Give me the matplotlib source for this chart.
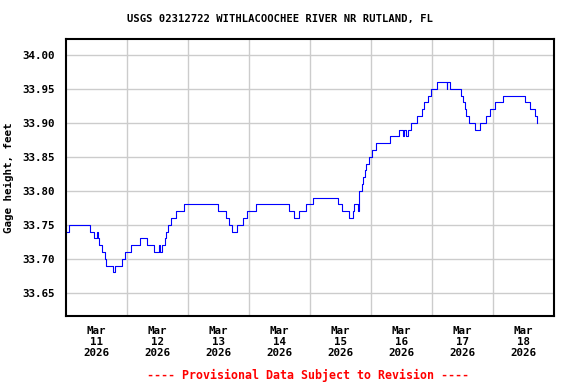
import matplotlib
matplotlib.use("Agg")
import matplotlib.pyplot as plt

# step breakpoints: days since Mar 11 00:00, gage height (ft)
days = [0.00, 0.06, 0.40, 0.47, 0.52, 0.53, 0.55, 0.59, 0.64, 0.66,
        0.77, 0.80, 0.93, 0.98, 1.07, 1.21, 1.34, 1.45, 1.53, 1.54,
        1.58, 1.62, 1.65, 1.68, 1.73, 1.80, 1.93, 2.49, 2.62, 2.68,
        2.73, 2.80, 2.90, 2.97, 3.12, 3.66, 3.74, 3.82, 3.93, 4.05,
        4.46, 4.53, 4.64, 4.70, 4.72, 4.79, 4.81, 4.85, 4.87, 4.90,
        4.92, 4.97, 5.01, 5.08, 5.31, 5.46, 5.53, 5.54, 5.58, 5.60,
        5.66, 5.75, 5.84, 5.87, 5.94, 5.99, 6.09, 6.24, 6.25, 6.29,
        6.47, 6.51, 6.54, 6.56, 6.61, 6.70, 6.78, 6.88, 6.95, 7.03,
        7.16, 7.52, 7.60, 7.68, 7.72]
heights = [33.74, 33.75, 33.74, 33.73, 33.74, 33.73, 33.72, 33.71, 33.70, 33.69,
           33.68, 33.69, 33.70, 33.71, 33.72, 33.73, 33.72, 33.71, 33.72, 33.71,
           33.72, 33.73, 33.74, 33.75, 33.76, 33.77, 33.78, 33.77, 33.76, 33.75,
           33.74, 33.75, 33.76, 33.77, 33.78, 33.77, 33.76, 33.77, 33.78, 33.79,
           33.78, 33.77, 33.76, 33.77, 33.78, 33.77, 33.80, 33.81, 33.82, 33.83,
           33.84, 33.85, 33.86, 33.87, 33.88, 33.89, 33.88, 33.89, 33.88, 33.89,
           33.90, 33.91, 33.92, 33.93, 33.94, 33.95, 33.96, 33.95, 33.96, 33.95,
           33.94, 33.93, 33.92, 33.91, 33.90, 33.89, 33.90, 33.91, 33.92, 33.93,
           33.94, 33.93, 33.92, 33.91, 33.90]

day_labels = ["Mar\n11\n2026", "Mar\n12\n2026", "Mar\n13\n2026", "Mar\n14\n2026",
              "Mar\n15\n2026", "Mar\n16\n2026", "Mar\n17\n2026", "Mar\n18\n2026"]
y_ticks = [33.65, 33.70, 33.75, 33.80, 33.85, 33.90, 33.95, 34.00]

mono = "DejaVu Sans Mono"

fig = plt.figure(figsize=(5.76, 3.84), dpi=100)
ax = fig.add_axes([0.114, 0.177, 0.848, 0.721])

ax.plot(days, heights, color="#0000FF", linewidth=0.8, drawstyle="steps-post")

ax.set_xlim(0, 8)
ax.set_ylim(33.616, 34.023)

ax.set_xticks(range(1, 8))
ax.set_xticklabels([])
ax.set_xticks([i + 0.5 for i in range(8)], minor=True)
ax.set_xticklabels(day_labels, minor=True, fontfamily=mono, fontweight="bold",
                   fontsize=7.8, linespacing=1.15)
ax.tick_params(axis="x", which="both", length=0, pad=7)

ax.set_yticks(y_ticks)
ax.set_yticklabels([f"{v:.2f}" for v in y_ticks], fontfamily=mono,
                   fontweight="bold", fontsize=7.8)
ax.tick_params(axis="y", length=0, pad=8)

ax.grid(True, which="major", color="#CCCCCC", linewidth=1.0)
ax.set_axisbelow(True)
for s in ax.spines.values():
    s.set_linewidth(1.5)
    s.set_color("black")

ax.set_ylabel("Gage height, feet", fontfamily=mono, fontweight="bold",
              fontsize=7.8, labelpad=6)

fig.text(0.486, 0.95, "USGS 02312722 WITHLACOOCHEE RIVER NR RUTLAND, FL",
         ha="center", va="center", fontfamily=mono, fontweight="bold", fontsize=7.6)
fig.text(0.535, 0.023, "---- Provisional Data Subject to Revision ----",
         ha="center", va="center", fontfamily=mono, fontweight="bold",
         fontsize=8.4, color="red")

fig.savefig("out.png", dpi=100)
